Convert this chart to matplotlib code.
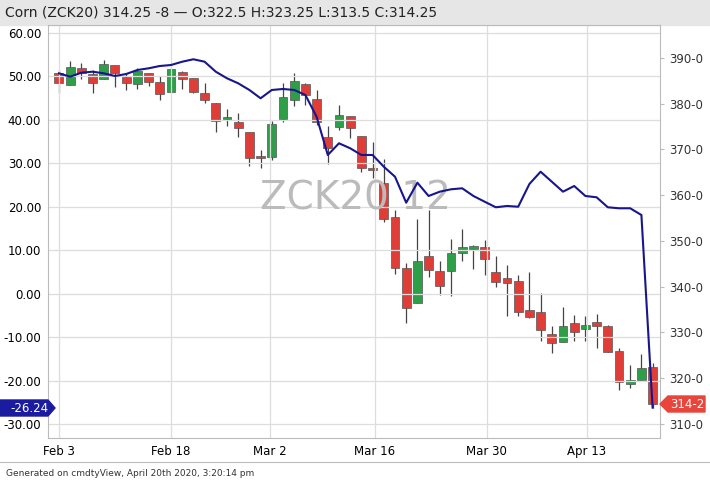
import numpy as np
import matplotlib.pyplot as plt
from matplotlib.patches import Rectangle, Polygon

# daily OHLC (right axis, cents/bu) and indicator line (left axis)
opens = [386.7, 384.1, 387.7, 386.5, 385.3, 388.4, 385.9, 384.3, 386.7, 384.8,
         382.6, 386.9, 385.6, 382.4, 380.1, 376.7, 376.1, 373.9, 368.3, 368.3,
         376.6, 380.8, 384.3, 381.0, 372.8, 374.9, 377.3, 373.0, 365.9, 362.7,
         355.3, 344.0, 336.4, 346.6, 343.5, 343.5, 347.4, 348.3, 348.6, 343.1,
         341.8, 341.3, 334.9, 334.5, 329.7, 327.8, 332.0, 330.7, 332.3, 331.3,
         326.0, 318.7, 319.6, 322.5]
highs = [387.4, 389.4, 389.0, 387.4, 389.6, 388.4, 386.7, 387.7, 386.7, 386.1,
         387.7, 387.2, 385.6, 384.5, 380.1, 378.8, 378.0, 373.9, 369.9, 376.3,
         384.6, 386.8, 384.5, 382.9, 375.1, 379.7, 377.3, 373.0, 371.7, 367.9,
         356.8, 345.1, 354.7, 356.8, 345.5, 350.4, 352.7, 349.1, 350.1, 346.7,
         344.8, 342.6, 343.3, 338.6, 331.4, 335.5, 333.8, 333.5, 334.0, 331.6,
         326.5, 322.9, 325.3, 323.25]
lows = [382.3, 384.1, 385.3, 382.3, 385.3, 383.7, 382.9, 383.2, 383.9, 380.8,
        382.4, 383.2, 382.4, 380.2, 373.7, 375.1, 372.7, 366.4, 365.9, 367.7,
        376.1, 379.4, 379.7, 375.4, 366.8, 374.3, 372.4, 365.1, 363.7, 354.2,
        342.8, 332.0, 336.4, 342.2, 338.2, 338.0, 345.7, 343.8, 342.6, 340.0,
        333.5, 333.6, 333.1, 328.0, 325.4, 327.8, 328.2, 328.0, 326.5, 325.8,
        317.4, 317.8, 319.6, 313.5]
closes = [384.6, 388.1, 386.7, 384.6, 388.7, 386.7, 384.5, 387.2, 384.8, 382.1,
          387.6, 385.3, 382.6, 380.8, 376.3, 377.0, 374.6, 368.1, 368.1, 375.6,
          381.4, 385.0, 381.9, 376.1, 370.3, 377.5, 374.6, 365.9, 365.4, 354.7,
          344.0, 335.3, 345.5, 343.7, 340.2, 347.3, 348.6, 348.9, 346.0, 341.1,
          340.8, 334.5, 333.3, 330.5, 327.6, 331.4, 330.0, 331.6, 331.4, 325.8,
          319.2, 319.6, 322.2, 314.25]
line_vals = [50.72, 49.94, 50.86, 51.09, 50.72, 50.10, 50.56, 51.48, 51.87, 52.40,
             52.63, 53.39, 53.95, 53.39, 51.09, 49.57, 48.42, 46.88, 44.97, 46.88,
             47.11, 46.88, 45.73, 40.73, 31.92, 34.61, 33.46, 31.92, 31.92, 29.22,
             26.92, 20.94, 25.54, 22.48, 23.47, 24.02, 24.25, 22.48, 21.17, 19.88,
             20.18, 20.01, 25.24, 28.07, 25.77, 23.47, 24.78, 22.48, 22.18, 19.88,
             19.65, 19.65, 18.10, -26.24]
date_labels = ["Feb 3", "Feb 18", "Mar 2", "Mar 16", "Mar 30", "Apr 13"]
date_pos = [0, 10, 18.8, 28.2, 38.2, 47.1]
left_ticks = [60, 50, 40, 30, 20, 10, 0, -10, -20, -30]
right_ticks = [390, 380, 370, 360, 350, 340, 330, 320, 310]

GREEN = "#2e9e48"
RED = "#df3e38"
NAVY = "#17168c"

fig = plt.figure(figsize=(7.1, 4.84), dpi=100)
fig.patches.append(Rectangle((0, 484 - 25), 710, 25, transform=None,
                             color="#e6e6e6", zorder=0))
fig.text(5 / 710, 1 - 12 / 484, "Corn (ZCK20) 314.25 -8 \u2014 O:322.5 H:323.25 L:313.5 C:314.25",
         fontsize=10, va="center", ha="left", color="#222222")
fig.text(6 / 710, 1 - 473 / 484, "Generated on cmdtyView, April 20th 2020, 3:20:14 pm",
         fontsize=6.5, va="center", ha="left", color="#333333")
fig.add_artist(plt.Line2D([0, 1], [1 - 462 / 484] * 2, color="#bbbbbb", lw=0.8))

ax = fig.add_axes([48 / 710, 1 - 438 / 484, 612 / 710, 413 / 484])
ax.set_ylim(-33.23, 61.84)
ax.set_xlim(-0.98, 53.66)
ax.set_yticks(left_ticks)
ax.set_yticklabels([f"{v:.2f}" for v in left_ticks], fontsize=8.5)
ax.set_xticks(date_pos)
ax.set_xticklabels(date_labels, fontsize=8.5)
ax.tick_params(length=0, pad=5)
ax.grid(True, color="#dddddd", lw=0.9)
ax.set_axisbelow(True)
for s in ax.spines.values():
    s.set_color("#bbbbbb")

ax2 = ax.twinx()
ax2.set_ylim(306.9, 397.2)
ax2.set_yticks(right_ticks)
ax2.set_yticklabels([f"{v}-0" for v in right_ticks], fontsize=8.5, color="#333333")
ax2.tick_params(length=3, color="#bbbbbb")
for s in ax2.spines.values():
    s.set_visible(False)

ax.text(26.5, 22, "ZCK20 12", fontsize=28, color="#bbbbbb", ha="center", va="center", zorder=1)

x = np.arange(len(opens))
for i in x:
    o, h, l, c = opens[i], highs[i], lows[i], closes[i]
    col = GREEN if c >= o else RED
    ax2.vlines(i, l, h, color="#444444", lw=0.9, zorder=2)
    bottom = min(o, c)
    height = max(abs(c - o), 0.4)
    ax2.add_patch(Rectangle((i - 0.4, bottom), 0.8, height, facecolor=col,
                            edgecolor="#555555", lw=0.5, zorder=3))

ax.set_zorder(ax2.get_zorder() + 1)
ax.patch.set_visible(False)
ax.plot(x, line_vals, color=NAVY, lw=1.5, zorder=5)

# last value badges
fig.patches.append(Polygon([[0, 484 - 400], [48, 484 - 400], [55, 484 - 408],
                            [48, 484 - 416], [0, 484 - 416]], closed=True,
                           transform=None, color="#1b1ba0", zorder=5))
fig.text(10 / 710, 1 - 408 / 484, "-26.24", color="white", fontsize=8.5, va="center",
         ha="left", zorder=6)
fig.patches.append(Polygon([[660, 484 - 404], [668, 484 - 396], [705, 484 - 396],
                            [705, 484 - 412], [668, 484 - 412]], closed=True,
                           transform=None, color="#e8453c", zorder=5))
fig.text(670 / 710, 1 - 404 / 484, "314-2", color="white", fontsize=8.5, va="center",
         ha="left", zorder=6)

fig.savefig("out.png", dpi=100)
